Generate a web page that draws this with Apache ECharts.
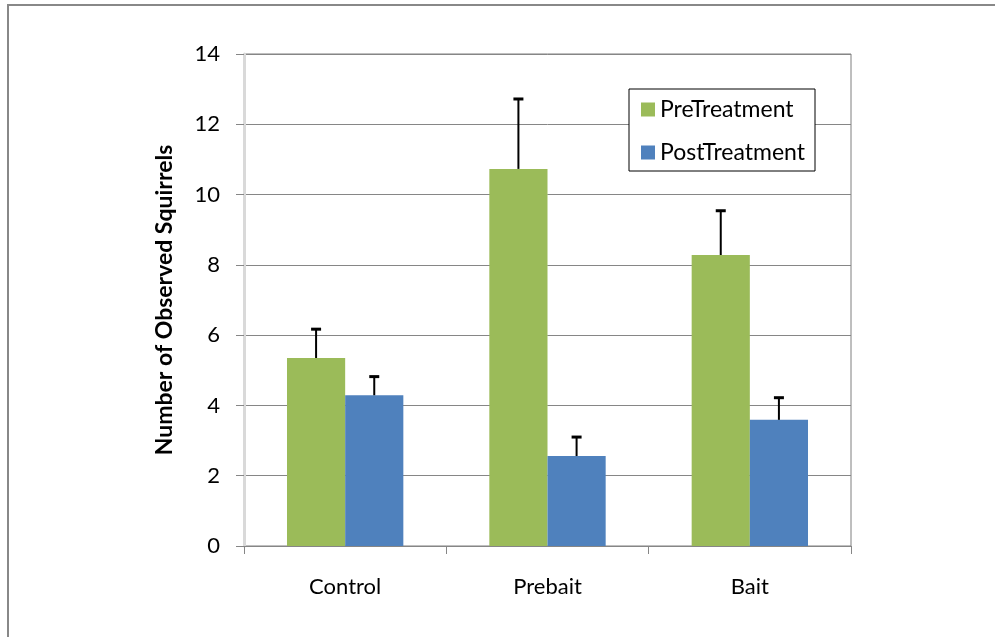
<!DOCTYPE html>
<html>
<head>
<meta charset="utf-8">
<script src="https://cdn.jsdelivr.net/npm/echarts@6/dist/echarts.min.js"></script>
<style>
  html, body { margin: 0; padding: 0; background: #fff; }
  #main { width: 995px; height: 637px; }
</style>
</head>
<body>
<div id="main"></div>
<script>
  // data
  var categories = ['Control', 'Prebait', 'Bait']
  var preValues = [5.35, 10.73, 8.28]
  var preErrors = [0.82, 1.99, 1.26]
  var postValues = [4.29, 2.56, 3.59]
  var postErrors = [0.53, 0.54, 0.63]

  var font = 'Lato, "Open Sans", sans-serif'
  var catGap = 0.425

  var myChart = echarts.init(document.getElementById('main'))

  // error bar drawn with custom series, shifted onto the left / right bar of the pair
  function errorBar(values, errors, side) {
    var data = values.map(function (v, i) { return [i, v, v + errors[i]] })
    return {
      type: 'custom',
      silent: true,
      z: 10,
      data: data,
      encode: { x: 0, y: [1, 2] },
      renderItem: function (params, api) {
        var band = api.size([1, 0])[0]
        var barW = band * (1 - catGap) / 2
        var x = api.coord([api.value(0), 0])[0] + side * barW / 2
        var y0 = api.coord([api.value(0), api.value(1)])[1]
        var y1 = api.coord([api.value(0), api.value(2)])[1]
        return {
          type: 'group',
          children: [
            { type: 'line', shape: { x1: x, y1: y0, x2: x, y2: y1 }, style: { stroke: '#000', lineWidth: 2 } },
            { type: 'line', shape: { x1: x - 5, y1: y1, x2: x + 5, y2: y1 }, style: { stroke: '#000', lineWidth: 3 } }
          ]
        }
      }
    }
  }

  var option = {
    backgroundColor: '#fff',
    animation: false,
    graphic: [
      {
        type: 'rect',
        shape: { x: 8, y: 5, width: 1000, height: 650 },
        style: { fill: 'none', stroke: '#888', lineWidth: 2 },
        silent: true
      }
    ],
    grid: {
      left: 244,
      right: 144,
      top: 54,
      bottom: 91,
      show: true,
      borderColor: '#7f7f7f',
      borderWidth: 1
    },
    legend: {
      left: 629,
      top: 89,
      orient: 'vertical',
      data: ['PreTreatment', 'PostTreatment'],
      icon: 'rect',
      itemWidth: 14,
      itemHeight: 14,
      itemGap: 18,
      itemTextGap: 8,
      padding: [8, 10, 6, 12],
      backgroundColor: '#fff',
      borderColor: '#000',
      borderWidth: 1,
      borderRadius: 0,
      textStyle: { fontFamily: font, fontSize: 23, color: '#000', lineHeight: 25 }
    },
    xAxis: {
      type: 'category',
      data: categories,
      axisLine: { lineStyle: { color: '#868686', width: 1 } },
      axisTick: { show: true, length: 8, lineStyle: { color: '#868686' } },
      axisLabel: { fontFamily: font, fontSize: 22, color: '#000', margin: 30 }
    },
    yAxis: {
      type: 'value',
      min: 0,
      max: 14,
      interval: 2,
      name: 'Number of Observed Squirrels',
      nameLocation: 'middle',
      nameGap: 68,
      nameTextStyle: { fontFamily: font, fontSize: 23, fontWeight: 'bold', color: '#000' },
      axisLine: { show: true, lineStyle: { color: '#d9d9d9', width: 3 } },
      axisTick: { show: true, length: 8, lineStyle: { color: '#868686' } },
      axisLabel: { fontFamily: font, fontSize: 22, color: '#000', margin: 24 },
      splitLine: { lineStyle: { color: '#868686', width: 1 } }
    },
    series: [
      {
        name: 'PreTreatment',
        type: 'bar',
        data: preValues,
        barGap: '0%',
        barCategoryGap: (catGap * 100) + '%',
        itemStyle: { color: '#9bbb59' }
      },
      {
        name: 'PostTreatment',
        type: 'bar',
        data: postValues,
        itemStyle: { color: '#4f81bd' }
      },
      errorBar(preValues, preErrors, -1),
      errorBar(postValues, postErrors, 1)
    ]
  }

  myChart.setOption(option)
  window.addEventListener('resize', function () {
    myChart.resize()
  })
</script>
</body>
</html>
